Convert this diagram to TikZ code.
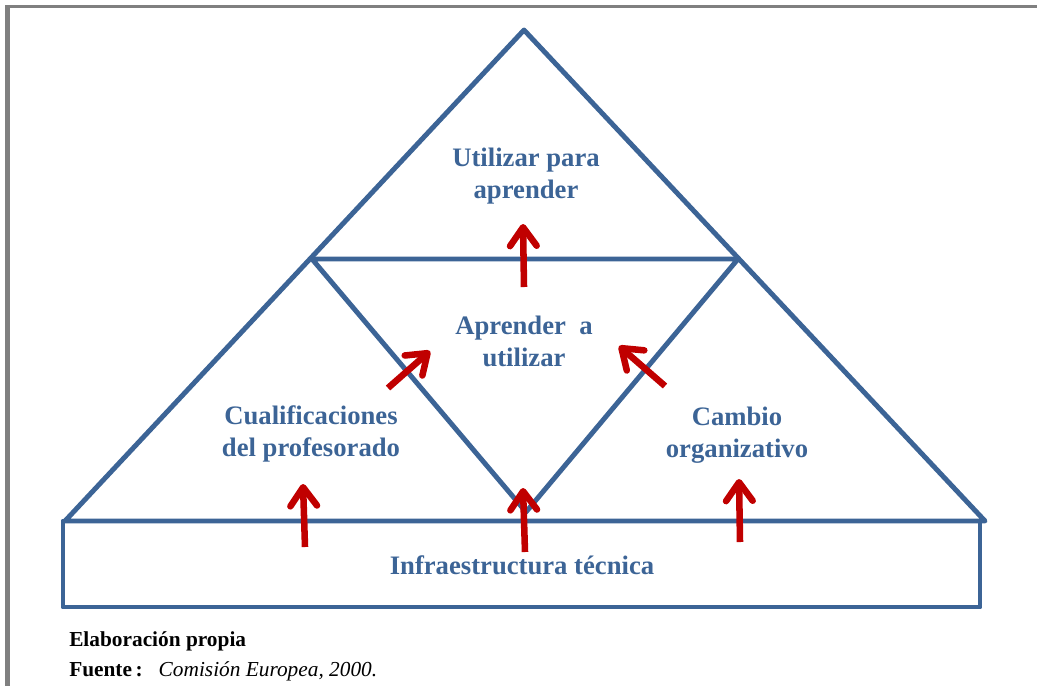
\documentclass[tikz,border=0pt]{standalone}
\usepackage{fontspec}
\setmainfont{Liberation Serif}
\usetikzlibrary{arrows.meta}
\definecolor{dblue}{HTML}{3C6496}
\definecolor{dred}{HTML}{C00000}
\definecolor{framegray}{HTML}{808080}
\tikzset{
  shapeline/.style={draw=dblue, line width=3.7pt, line join=round, line cap=round},
  redarrow/.style={draw=dred, line width=4.9pt, -{Straight Barb[length=14pt,width=20pt,round]}},
  lbl/.style={text=dblue, font=\fontsize{20}{24}\selectfont\bfseries, align=center, inner sep=0pt},
  captext/.style={font=\fontsize{16}{22}\selectfont, anchor=base west, inner sep=0pt}
}
\begin{document}
\begin{tikzpicture}[x=0.75pt,y=-0.75pt]
\useasboundingbox (0,0) rectangle (1037,686);
% page frame
\fill[framegray] (5,5) rectangle (10,686);
\fill[framegray] (5,5) rectangle (1037,7.7);
% shapes
\coordinate (A) at (524,30);
\coordinate (BL) at (65,521);
\coordinate (BR) at (985,521);
\coordinate (IL) at (312,259);
\coordinate (IR) at (738,259);
\coordinate (IB) at (526,512);
\draw[shapeline] (BL) -- (A) -- (BR) -- cycle;
\draw[shapeline] (IL) -- (IR) -- (IB) -- cycle;
\draw[shapeline] (63,521) rectangle (980,607);
% labels
\node[lbl] (top) at (526,176) {Utilizar para\\aprender};
\node[lbl] (mid) at (524,341) {Aprender\ \ a\\utilizar};
\node[lbl] (left) at (311,434) {Cualificaciones\\del profesorado};
\node[lbl] (right) at (737,435) {Cambio\\organizativo};
\node[lbl, anchor=base] (base) at (522,574) {Infraestructura técnica};
% arrows
\coordinate (a1s) at (524,287); \coordinate (a1e) at (523,224);
\coordinate (a2s) at (388,388); \coordinate (a2e) at (430,351);
\coordinate (a3s) at (665,386); \coordinate (a3e) at (619,346);
\coordinate (a4s) at (305,547); \coordinate (a4e) at (303,484);
\coordinate (a5s) at (525,552); \coordinate (a5e) at (523,488);
\coordinate (a6s) at (740,542); \coordinate (a6e) at (739,479);
\foreach \i in {1,...,6} \draw[redarrow] (a\i s) -- (a\i e);
% caption
\node[captext, font=\fontsize{16}{22}\selectfont\bfseries] (c1) at (69,646) {Elaboración propia};
\node[captext] (c2) at (69,676) {\textbf{Fuente\,:}\ \ \ \textit{Comisión Europea, 2000.}};
\end{tikzpicture}
\end{document}
